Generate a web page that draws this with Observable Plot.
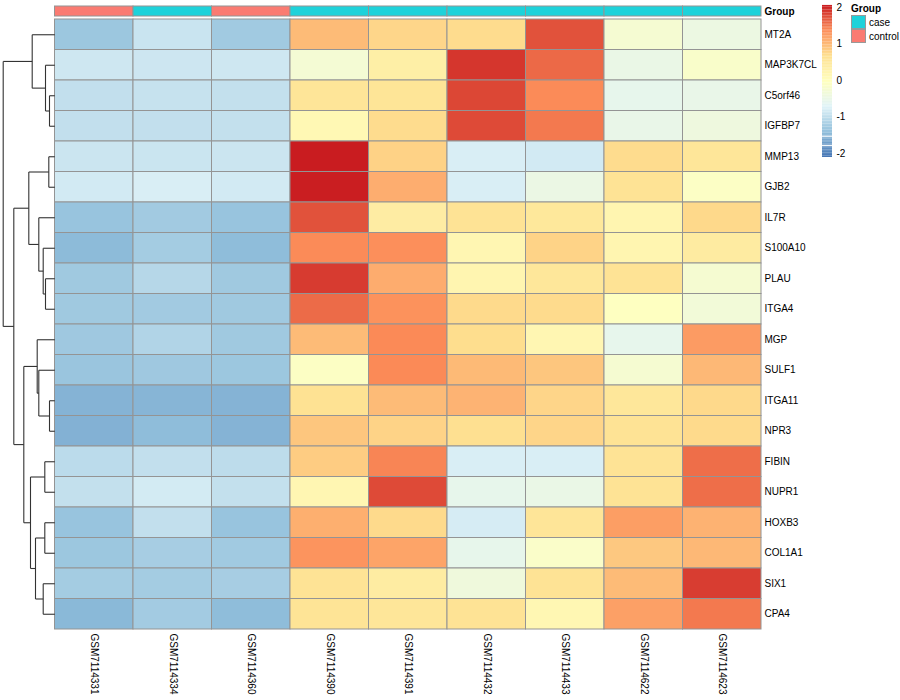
<!DOCTYPE html>
<html><head><meta charset="utf-8">
<script src="https://cdn.jsdelivr.net/npm/d3@7"></script>
<script src="https://cdn.jsdelivr.net/npm/@observablehq/plot@0.6"></script>
<style>
body{margin:0;background:#fff;font-family:"Liberation Sans",Arial,sans-serif;}
#chart{position:relative;width:900px;height:700px;background:#fff;}
#chart > svg, #chart > div{position:absolute;}
.leg{font-size:10px;color:#000;}
.leg .t{font-weight:bold;margin-bottom:1px;}
.leg .row{display:flex;align-items:center;height:14px;}
.leg .sw{width:15px;height:14px;border:1px solid #999;box-sizing:border-box;margin-right:3px;}
</style></head><body><div id="chart"></div>
<script>
const samples = ["GSM7114331","GSM7114334","GSM7114360","GSM7114390","GSM7114391","GSM7114432","GSM7114433","GSM7114622","GSM7114623"];
const groups = ["control","case","control","case","case","case","case","case","case"];
const genes = ["MT2A","MAP3K7CL","C5orf46","IGFBP7","MMP13","GJB2","IL7R","S100A10","PLAU","ITGA4","MGP","SULF1","ITGA11","NPR3","FIBIN","NUPR1","HOXB3","COL1A1","SIX1","CPA4"];
const values = [
  [-1.31,-0.92,-1.27, 0.98, 0.75, 0.70, 1.72,-0.26,-0.45],
  [-0.88,-0.89,-0.88,-0.28, 0.34, 1.89, 1.58,-0.50,-0.16],
  [-0.98,-0.95,-0.97, 0.55, 0.56, 1.79, 1.37,-0.57,-0.53],
  [-0.98,-0.98,-0.97, 0.13, 0.70, 1.77, 1.48,-0.53,-0.41],
  [-0.90,-0.91,-0.90, 2.05, 0.79,-0.78,-0.84, 0.70, 0.53],
  [-0.84,-0.78,-0.84, 2.04, 1.09,-0.78,-0.48, 0.60,-0.10],
  [-1.35,-1.26,-1.35, 1.72, 0.39, 0.60, 0.50, 0.20, 0.73],
  [-1.45,-1.24,-1.43, 1.37, 1.34, 0.17, 0.78, 0.20, 0.42],
  [-1.28,-1.09,-1.28, 1.86, 1.10, 0.20, 0.52, 0.60,-0.25],
  [-1.28,-1.26,-1.28, 1.57, 1.32, 0.72, 0.71,-0.05,-0.33],
  [-1.29,-1.13,-1.28, 0.98, 1.38, 0.69, 0.17,-0.57, 1.24],
  [-1.33,-1.29,-1.31,-0.09, 1.38, 0.99, 0.89,-0.25, 1.00],
  [-1.52,-1.50,-1.52, 0.62, 0.98, 1.04, 0.76, 0.52, 0.73],
  [-1.54,-1.43,-1.52, 0.89, 0.78, 0.66, 0.76, 0.60, 0.72],
  [-1.04,-0.98,-1.03, 0.84, 1.41,-0.78,-0.78, 0.60, 1.55],
  [-0.97,-0.83,-0.97, 0.17, 1.77,-0.56,-0.50, 0.60, 1.55],
  [-1.35,-0.98,-1.35, 1.08, 0.72,-0.81, 0.55, 1.22, 1.05],
  [-1.31,-1.22,-1.27, 1.30, 1.17,-0.56,-0.15, 0.87, 1.00],
  [-1.24,-1.24,-1.22, 0.60, 0.40,-0.38, 0.60, 0.98, 1.85],
  [-1.47,-1.25,-1.43, 0.58, 0.54, 0.60, 0.15, 1.20, 1.48]
];
// hierarchical clustering of rows: [node, left, right, height]
const dendro = [
  ["n1","C5orf46","IGFBP7",5.3],
  ["n2","MAP3K7CL","n1",9.3],
  ["n3","MT2A","n2",22.6],
  ["n4","MMP13","GJB2",6.0],
  ["n5","PLAU","ITGA4",9.3],
  ["n6","S100A10","n5",11.6],
  ["n7","IL7R","n6",16.0],
  ["n8","n4","n7",26.0],
  ["n9","ITGA11","NPR3",5.3],
  ["n10","SULF1","n9",16.0],
  ["n11","MGP","n10",17.6],
  ["n12","FIBIN","NUPR1",10.0],
  ["n13","HOXB3","COL1A1",10.0],
  ["n14","SIX1","CPA4",11.6],
  ["n15","n13","n14",19.3],
  ["n16","n12","n15",24.3],
  ["n17","n11","n16",31.0],
  ["n18","n8","n17",41.0],
  ["n19","n3","n18",51.6]
];
const colorDomain = [-2.1,-1.41,-0.72,-0.03,0.67,1.36,2.05];
const colorRange = ["#4575B4","#91BFDB","#E0F3F8","#FFFFBF","#FEE090","#FC8D59","#C91C20"];
const legendTicks = [-2,-1,0,1,2];
const legendGaps = [-1.52,-1.77];
const groupLevels = ["case","control"];
const groupColors = ["#1ED2DA","#FA7B72"];

const FONT = "'Liberation Sans', Arial, Helvetica, sans-serif";
const baseStyle = {fontFamily: FONT, fontSize: "10px", background: "transparent", color: "#000", overflow: "visible"};
const colorScale = {type: "linear", domain: colorDomain, range: colorRange, interpolate: "rgb"};
const chart = document.getElementById("chart");

const cells = genes.flatMap((g, i) => samples.map((s, j) => ({gene: g, sample: s, value: values[i][j]})));

// heatmap
const heat = Plot.plot({
  width: 900, height: 700,
  marginLeft: 54.5, marginRight: 139, marginTop: 19, marginBottom: 71,
  x: {domain: samples, padding: 0, round: false, label: null},
  y: {domain: genes, padding: 0, round: false, label: null},
  color: colorScale,
  style: baseStyle,
  marks: [
    Plot.cell(cells, {x: "sample", y: "gene", fill: "value", stroke: "#949494", strokeWidth: 1, inset: 0}),
    Plot.axisY({anchor: "right", tickSize: 0, tickPadding: 3, label: null}),
    Plot.axisX({anchor: "bottom", tickSize: 0, tickPadding: 4, tickRotate: 90, label: null})
  ]
});
heat.style.left = "0px"; heat.style.top = "0px";
chart.appendChild(heat);

// annotation bar
const annot = Plot.plot({
  width: 900, height: 17,
  marginLeft: 54.5, marginRight: 139, marginTop: 6, marginBottom: 1,
  x: {domain: samples, padding: 0, round: false, axis: null},
  y: {domain: ["Group"], padding: 0, round: false, label: null},
  color: {domain: groupLevels, range: groupColors},
  style: baseStyle,
  marks: [
    Plot.cell(samples.map((s, i) => ({sample: s, group: groups[i]})), {x: "sample", y: () => "Group", fill: "group", stroke: "#949494", strokeWidth: 1, inset: 0}),
    Plot.axisY({anchor: "right", tickSize: 0, tickPadding: 3, label: null, fontWeight: "bold"})
  ]
});
annot.style.left = "0px"; annot.style.top = "0px";
chart.appendChild(annot);

// dendrogram
const pos = new Map(genes.map((g, i) => [g, {y: i, h: 0}]));
const segs = [];
for (const [id, a, b, h] of dendro) {
  const A = pos.get(a), B = pos.get(b);
  segs.push({x1: h, y1: A.y, x2: h, y2: B.y});
  segs.push({x1: A.h, y1: A.y, x2: h, y2: A.y});
  segs.push({x1: B.h, y1: B.y, x2: h, y2: B.y});
  pos.set(id, {y: (A.y + B.y) / 2, h});
}
const rootH = d3.max(dendro, d => d[3]);
const dend = Plot.plot({
  width: 56, height: 700,
  marginLeft: 2.7, marginRight: 1.7, marginTop: 19, marginBottom: 71,
  x: {domain: [0, rootH], reverse: true, axis: null},
  y: {domain: [-0.5, genes.length - 0.5], reverse: true, axis: null},
  style: baseStyle,
  marks: [Plot.link(segs, {x1: "x1", y1: "y1", x2: "x2", y2: "y2", stroke: "#333", strokeWidth: 1.1})]
});
dend.style.left = "0px"; dend.style.top = "0px";
chart.appendChild(dend);

// color legend
const lo = colorDomain[0], hi = colorDomain[colorDomain.length - 1];
const nSteps = 100, step = (hi - lo) / nSteps;
const legSteps = d3.range(nSteps).map(i => lo + i * step);
const leg = Plot.plot({
  width: 60, height: 162,
  marginLeft: 7, marginRight: 43, marginTop: 5, marginBottom: 5,
  x: {domain: [0, 1], axis: null},
  y: {domain: [lo, hi], label: null},
  color: colorScale,
  style: baseStyle,
  marks: [
    Plot.rect(legSteps, {x1: () => 0, x2: () => 1, y1: d => d, y2: d => d + step * 1.05, fill: d => d + step / 2}),
    Plot.ruleY(legendGaps, {x1: 0, x2: 1, stroke: "white", strokeWidth: 1}),
    Plot.axisY({anchor: "right", ticks: legendTicks, tickSize: 0, tickPadding: 4, label: null, tickFormat: d => String(d)})
  ]
});
leg.style.left = "815px"; leg.style.top = "0px";
chart.appendChild(leg);

// group legend
const gl = document.createElement("div");
gl.className = "leg";
gl.style.left = "851px"; gl.style.top = "3px";
gl.innerHTML = `<div class="t">Group</div>` + groupLevels.map((g, i) =>
  `<div class="row"><div class="sw" style="background:${groupColors[i]}"></div><span>${g}</span></div>`).join("");
chart.appendChild(gl);
</script></body></html>
